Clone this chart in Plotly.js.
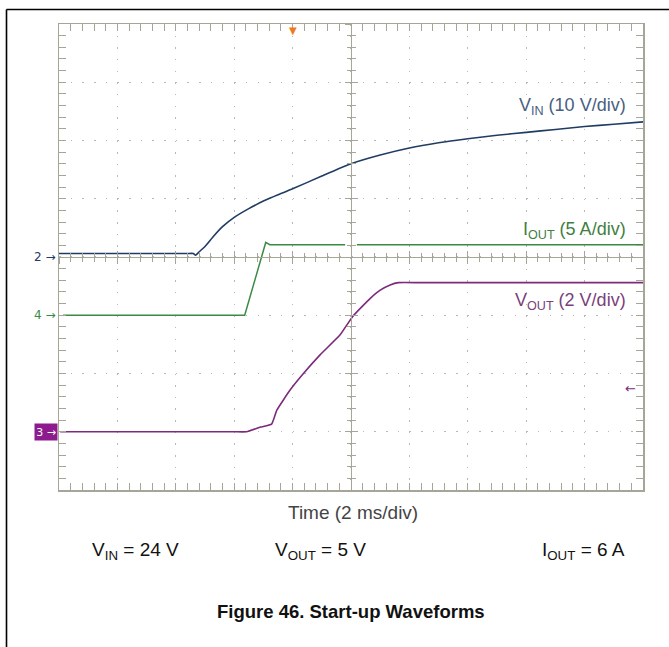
<!DOCTYPE html>
<html>
<head>
<meta charset="utf-8">
<script src="https://cdn.plot.ly/plotly-3.0.1.min.js"></script>
<style>html,body{margin:0;padding:0;background:#fff;}#chart{width:669px;height:647px;}</style>
</head>
<body>
<div id="chart"></div>
<script>
// Time axis in divisions (2 ms/div), vertical in divisions (0 = bottom of screen)
const vinX  = [0, 1.0, 2.0, 2.2, 2.3, 2.34, 2.4, 2.5, 2.65, 2.8, 3.0, 3.25, 3.5, 3.75, 4.0, 4.5, 5.0, 5.5, 6.0, 6.5, 7.0, 7.5, 8.0, 8.5, 9.0, 9.5, 10];
const vinY  = [4.06, 4.06, 4.06, 4.06, 4.06, 4.03, 4.09, 4.18, 4.36, 4.52, 4.68, 4.83, 4.96, 5.07, 5.17, 5.39, 5.6, 5.75, 5.87, 5.96, 6.03, 6.09, 6.14, 6.19, 6.24, 6.28, 6.32];
const ioutX = [0.07, 3.18, 3.54, 3.61, 4.9, 4.9, 5.1, 10];
const ioutY = [3.0, 3.0, 4.25, 4.21, 4.21, null, 4.21, 4.21];
const voutX = [0.02, 1.5, 2.8, 3.0, 3.21, 3.45, 3.64, 3.73, 3.96, 4.16, 4.47, 4.81, 5.03, 5.33, 5.5, 5.67, 5.81, 6.2, 8.0, 10];
const voutY = [1.0, 1.0, 1.0, 1.0, 1.0, 1.08, 1.13, 1.37, 1.72, 1.97, 2.32, 2.66, 2.98, 3.29, 3.43, 3.52, 3.56, 3.56, 3.56, 3.56];

const traceNames = ['V<sub>IN</sub> (10 V/div)', 'I<sub>OUT</sub> (5 A/div)', 'V<sub>OUT</sub> (2 V/div)'];
const chanRefs = [{ch: '2', level: 4}, {ch: '4', level: 3}, {ch: '3', level: 1}];
const triggerPos = 4.0;
const footer = ['V<sub>IN</sub> = 24 V', 'V<sub>OUT</sub> = 5 V', 'I<sub>OUT</sub> = 6 A'];
const xTitle = 'Time (2 ms/div)';
const figTitle = 'Figure 46. Start-up Waveforms';

const W = 669, H = 647;
const L = 59, R = 643, T = 24, B = 490;
const px = v => v / W, py = v => 1 - v / H;
const FONT = 'Liberation Sans, Arial, sans-serif';
const frame = '#a6a697';
const cVin = '#203c62', cIout = '#3b8a43', cVout = '#7c2a7c';

const traces = [
  {x: vinX, y: vinY, mode: 'lines', line: {color: cVin, width: 1.6, shape: 'spline', smoothing: 0.5}, hoverinfo: 'skip'},
  {x: ioutX, y: ioutY, mode: 'lines', line: {color: cIout, width: 1.5}, connectgaps: false, hoverinfo: 'skip'},
  {x: voutX, y: voutY, mode: 'lines', line: {color: cVout, width: 1.6, shape: 'spline', smoothing: 0.4}, hoverinfo: 'skip'},
  {x: [], y: [], xaxis: 'x2', yaxis: 'y'},
  {x: [], y: [], xaxis: 'x3', yaxis: 'y'},
  {x: [], y: [], xaxis: 'x', yaxis: 'y2'},
  {x: [], y: [], xaxis: 'x', yaxis: 'y3'}
];

const xd = [px(L), px(R)], yd = [py(B), py(T)];
const baseAx = {
  showticklabels: false, zeroline: false, fixedrange: true,
  tickcolor: frame, tickwidth: 1, linecolor: frame
};
const minorIn = {dtick: 0.2, ticks: 'inside', ticklen: 4, tickcolor: frame, tickwidth: 1, showgrid: false};
const minorOut = {dtick: 0.2, ticks: 'outside', ticklen: 4, tickcolor: frame, tickwidth: 1, showgrid: false};

const layout = {
  width: W, height: H,
  margin: {l: 0, r: 0, t: 0, b: 0},
  paper_bgcolor: '#ffffff', plot_bgcolor: '#ffffff',
  showlegend: false,
  font: {family: FONT},
  xaxis: Object.assign({}, baseAx, {domain: xd, range: [0, 10], dtick: 1, tick0: 0,
    showgrid: true, gridcolor: '#b8b8b8', gridwidth: 1.3, griddash: '1.5px,10.15px',
    showline: true, linewidth: 1.5, mirror: 'allticks', ticks: 'inside', ticklen: 7, minor: minorIn}),
  yaxis: Object.assign({}, baseAx, {domain: yd, range: [0, 8], dtick: 1, tick0: 0,
    showgrid: true, gridcolor: '#b8b8b8', gridwidth: 1.3, griddash: '1.5px,10.18px',
    showline: true, linewidth: 1.5, mirror: 'allticks', ticks: 'inside', ticklen: 7, minor: minorIn}),
  xaxis2: Object.assign({}, baseAx, {overlaying: 'x', anchor: 'free', position: (yd[0] + yd[1]) / 2,
    range: [0, 10], dtick: 1, showgrid: false, showline: true, linewidth: 1.2, ticks: 'inside', ticklen: 6, minor: minorIn}),
  xaxis3: Object.assign({}, baseAx, {overlaying: 'x', anchor: 'free', position: (yd[0] + yd[1]) / 2,
    range: [0, 10], dtick: 1, showgrid: false, showline: false, ticks: 'outside', ticklen: 6, minor: minorOut}),
  yaxis2: Object.assign({}, baseAx, {overlaying: 'y', anchor: 'free', position: (xd[0] + xd[1]) / 2,
    range: [0, 8], dtick: 1, showgrid: false, showline: true, linewidth: 1.2, ticks: 'inside', ticklen: 6, minor: minorIn}),
  yaxis3: Object.assign({}, baseAx, {overlaying: 'y', anchor: 'free', position: (xd[0] + xd[1]) / 2,
    range: [0, 8], dtick: 1, showgrid: false, showline: false, ticks: 'outside', ticklen: 6, minor: minorOut}),
  shapes: [
    {type: 'line', xref: 'paper', yref: 'paper', x0: px(6.5), x1: 1, y0: py(9.5), y1: py(9.5), line: {color: '#000', width: 1.6}},
    {type: 'line', xref: 'paper', yref: 'paper', x0: px(6.5), x1: px(6.5), y0: py(9.5), y1: 0, line: {color: '#000', width: 1.6}}
  ],
  annotations: [
    // trace labels
    {xref: 'paper', yref: 'paper', x: px(628), y: py(107), xanchor: 'right', yanchor: 'middle', showarrow: false,
     text: traceNames[0], font: {size: 18, color: '#48607f', family: FONT}},
    {xref: 'paper', yref: 'paper', x: px(628), y: py(230), xanchor: 'right', yanchor: 'middle', showarrow: false,
     text: traceNames[1], font: {size: 18, color: '#3f7f3f', family: FONT}},
    {xref: 'paper', yref: 'paper', x: px(628), y: py(301), xanchor: 'right', yanchor: 'middle', showarrow: false,
     text: traceNames[2], font: {size: 18, color: '#7a3f7a', family: FONT}},
    // channel reference markers
    {xref: 'paper', yref: 'y', x: px(L - 1), y: chanRefs[0].level, xanchor: 'right', yanchor: 'middle', showarrow: false,
     text: chanRefs[0].ch + ' \u2192', font: {size: 12, color: cVin, family: 'DejaVu Sans'}},
    {xref: 'paper', yref: 'y', x: px(L - 1), y: chanRefs[1].level, xanchor: 'right', yanchor: 'middle', showarrow: false,
     text: chanRefs[1].ch + ' \u2192', font: {size: 12, color: cIout, family: 'DejaVu Sans'}},
    {xref: 'paper', yref: 'y', x: px(L - 1), y: chanRefs[2].level, xanchor: 'right', yanchor: 'middle', showarrow: false,
     text: chanRefs[2].ch + ' \u2192', font: {size: 11, color: '#ffffff', family: 'DejaVu Sans'},
     bgcolor: '#8e1b8e', width: 20, height: 14, borderpad: 1},
    {xref: 'paper', yref: 'paper', x: px(638), y: py(388), xanchor: 'right', yanchor: 'middle', showarrow: false,
     text: '\u2190', font: {size: 13, color: cVout, family: 'DejaVu Sans'}},
    // trigger marker
    {xref: 'x', yref: 'paper', x: triggerPos, y: py(T - 1), xanchor: 'center', yanchor: 'top', showarrow: false,
     text: '\u25BC', font: {size: 10, color: '#f07a22', family: 'DejaVu Sans'}},
    // axis title and conditions
    {xref: 'paper', yref: 'paper', x: px(353), y: py(512), xanchor: 'center', yanchor: 'middle', showarrow: false,
     text: xTitle, font: {size: 19, color: '#444444', family: FONT}},
    {xref: 'paper', yref: 'paper', x: px(90), y: py(551), xanchor: 'left', yanchor: 'middle', showarrow: false,
     text: footer[0], font: {size: 19, color: '#111111', family: FONT}},
    {xref: 'paper', yref: 'paper', x: px(273), y: py(551), xanchor: 'left', yanchor: 'middle', showarrow: false,
     text: footer[1], font: {size: 19, color: '#111111', family: FONT}},
    {xref: 'paper', yref: 'paper', x: px(627), y: py(551), xanchor: 'right', yanchor: 'middle', showarrow: false,
     text: footer[2], font: {size: 19, color: '#111111', family: FONT}},
    {xref: 'paper', yref: 'paper', x: px(351), y: py(611), xanchor: 'center', yanchor: 'middle', showarrow: false,
     text: '<b>' + figTitle + '</b>', font: {size: 18.5, color: '#111111', family: FONT}}
  ]
};

Plotly.newPlot('chart', traces, layout, {staticPlot: true, displayModeBar: false});
</script>
</body>
</html>
